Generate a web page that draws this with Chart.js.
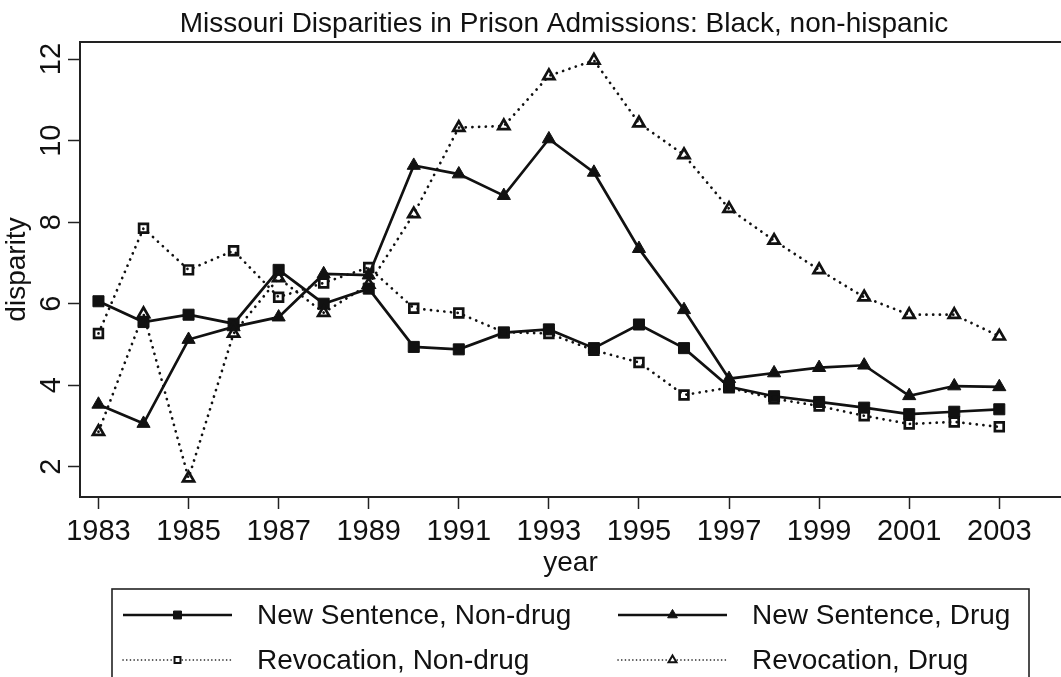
<!DOCTYPE html>
<html><head><meta charset="utf-8">
<script src="https://cdn.jsdelivr.net/npm/chart.js@4.4.0/dist/chart.umd.min.js"></script>
<style>html,body{margin:0;padding:0;background:#fff;overflow:hidden}#wrap{width:1061px;height:677px;position:relative}canvas{display:block}</style>
</head><body><div id="wrap"><canvas id="c" width="1061" height="677"></canvas></div>
<script>
const titleText = 'Missouri Disparities in Prison Admissions: Black, non-hispanic';
const xAxisTitle = 'year';
const yAxisTitle = 'disparity';
const years = [1983,1984,1985,1986,1987,1988,1989,1990,1991,1992,1993,1994,1995,1996,1997,1998,1999,2000,2001,2002,2003];
const newSentenceNonDrug = [6.06,5.55,5.73,5.51,6.83,6.00,6.37,4.94,4.88,5.29,5.37,4.91,5.49,4.91,3.96,3.73,3.59,3.45,3.29,3.35,3.41];
const newSentenceDrug    = [3.53,3.06,5.12,5.43,5.67,6.73,6.70,9.39,9.18,8.65,10.04,9.22,7.35,5.85,4.16,4.30,4.43,4.49,3.74,3.98,3.96];
const revocationNonDrug  = [5.27,7.85,6.83,7.30,6.16,6.51,6.89,5.89,5.77,5.30,5.27,4.86,4.56,3.76,3.94,3.67,3.49,3.25,3.05,3.10,2.98];
const revocationDrug     = [2.86,5.75,1.72,5.27,6.63,5.78,6.47,8.20,10.32,10.36,11.59,11.97,10.43,9.65,8.33,7.55,6.83,6.16,5.73,5.73,5.20];
const seriesNames = ['New Sentence, Non-drug','New Sentence, Drug','Revocation, Non-drug','Revocation, Drug'];
const xTickLabels = [1983,1985,1987,1989,1991,1993,1995,1997,1999,2001,2003];
const yTickLabels = [2,4,6,8,10,12];

const FONT = "'Liberation Sans', Arial, sans-serif";
const INK = '#111';
const AXIS = '#222';

function pts(vals){ return years.map((y,i)=>({x:y, y:vals[i]})); }

const solid = {borderColor:INK, borderWidth:2.7, borderDash:[], fill:false, tension:0};
const dotted = {borderColor:INK, borderWidth:2.7, borderDash:[0.1,6.6], borderCapStyle:'round', fill:false, tension:0};

const datasets = [
  Object.assign({label:seriesNames[0], data:pts(newSentenceNonDrug), pointStyle:'rect', pointRadius:7.8, pointBackgroundColor:INK, pointBorderColor:INK, pointBorderWidth:1, order:4}, solid),
  Object.assign({label:seriesNames[1], data:pts(newSentenceDrug), pointStyle:'triangle', pointRadius:7.6, pointBackgroundColor:INK, pointBorderColor:INK, pointBorderWidth:1, order:3}, solid),
  Object.assign({label:seriesNames[2], data:pts(revocationNonDrug), pointStyle:'rect', pointRadius:6.2, pointBackgroundColor:'rgba(0,0,0,0)', pointBorderColor:INK, pointBorderWidth:2.7, order:2}, dotted),
  Object.assign({label:seriesNames[3], data:pts(revocationDrug), pointStyle:'triangle', pointRadius:6.4, pointBackgroundColor:'rgba(0,0,0,0)', pointBorderColor:INK, pointBorderWidth:2.7, order:1}, dotted)
];

const titlePlugin = {
  id:'stataTitle',
  afterDraw(chart){
    const ctx = chart.ctx;
    ctx.save();
    ctx.fillStyle = INK; ctx.font = '28px ' + FONT;
    ctx.textAlign = 'center'; ctx.textBaseline = 'alphabetic';
    ctx.fillText(titleText, 564, 32);
    ctx.restore();
  }
};

const yLabelPlugin = {
  id:'yRotLabels',
  afterDraw(chart){
    const s = chart.scales.y, ctx = chart.ctx;
    ctx.save();
    ctx.fillStyle = INK; ctx.font = '29px ' + FONT;
    ctx.textAlign = 'center'; ctx.textBaseline = 'alphabetic';
    s.ticks.forEach(t=>{
      const py = s.getPixelForValue(t.value);
      ctx.save(); ctx.translate(s.right - 20, py); ctx.rotate(-Math.PI/2);
      ctx.fillText(String(t.value), 0, 0); ctx.restore();
    });
    ctx.restore();
  }
};

const legendPlugin = {
  id:'boxLegend',
  afterDraw(chart){
    const ctx = chart.ctx;
    const box = {l:112, t:589, r:1029, b:720};
    ctx.save();
    ctx.strokeStyle = AXIS; ctx.lineWidth = 1.6;
    ctx.strokeRect(box.l, box.t, box.r - box.l, box.b - box.t);
    const cols = [123, 618], rows = [615, 660];
    chart.data.datasets.forEach((ds,i)=>{
      const x0 = cols[i%2], y0 = rows[Math.floor(i/2)], len = 109;
      const isDot = ds.borderDash && ds.borderDash.length;
      ctx.save();
      ctx.strokeStyle = INK;
      ctx.lineWidth = isDot ? 1.6 : 2.7;
      ctx.lineCap = isDot ? 'round' : 'butt';
      ctx.setLineDash(isDot ? [0.1, 3.6] : []);
      ctx.beginPath(); ctx.moveTo(x0, y0); ctx.lineTo(x0 + len, y0); ctx.stroke();
      ctx.setLineDash([]);
      ctx.fillStyle = isDot ? '#fff' : INK;
      ctx.lineWidth = isDot ? 2 : 1;
      const r = ds.pointStyle === 'rect' ? (isDot ? 4.2 : 5.6) : (isDot ? 4.6 : 5.6);
      Chart.helpers.drawPoint(ctx, {pointStyle: ds.pointStyle, radius: r, rotation:0, borderWidth: ctx.lineWidth}, x0 + len/2, y0);
      ctx.restore();
      ctx.fillStyle = INK; ctx.font = '28px ' + FONT;
      ctx.textAlign = 'left'; ctx.textBaseline = 'middle';
      ctx.fillText(ds.label, x0 + 134, y0 + 1);
    });
    ctx.restore();
  }
};

new Chart(document.getElementById('c'), {
  type:'line',
  data:{datasets},
  options:{
    responsive:false, devicePixelRatio:1, animation:false,
    layout:{autoPadding:false, padding:{top:42, right:0, bottom:94, left:0}},
    plugins:{legend:{display:false}, title:{display:false}, tooltip:{enabled:false}},
    scales:{
      x:{
        type:'linear', position:'bottom', min:1982.59, max:2004.37,
        afterBuildTicks(s){ s.ticks = xTickLabels.map(v=>({value:v})); },
        afterFit(s){ s.height = 86; s.paddingLeft = 0; s.paddingRight = 0; },
        ticks:{color:INK, font:{family:FONT, size:29}, padding:6, maxRotation:0, autoSkip:false, callback:v=>String(v)},
        grid:{display:true, drawOnChartArea:false, drawTicks:true, tickLength:12, tickColor:AXIS, tickWidth:1.5},
        border:{display:true, color:AXIS, width:2},
        title:{display:true, text:xAxisTitle, color:INK, font:{family:FONT, size:28}, padding:{top:0, bottom:3}}
      },
      xTop:{
        type:'linear', position:'top', min:0, max:1,
        afterFit(s){ s.height = 0; s.paddingLeft = 0; s.paddingRight = 0; },
        ticks:{display:false}, grid:{display:false},
        border:{display:true, color:AXIS, width:2}
      },
      y:{
        type:'linear', position:'left', min:1.258, max:12.42,
        afterBuildTicks(s){ s.ticks = yTickLabels.map(v=>({value:v})); },
        afterFit(s){ s.width = 80; },
        ticks:{display:false},
        grid:{display:true, drawOnChartArea:false, drawTicks:true, tickLength:12, tickColor:AXIS, tickWidth:1.5},
        border:{display:true, color:AXIS, width:2},
        title:{display:true, text:yAxisTitle, color:INK, font:{family:FONT, size:28}, padding:{top:0, bottom:0}}
      }
    }
  },
  plugins:[titlePlugin, yLabelPlugin, legendPlugin]
});
</script></body></html>
